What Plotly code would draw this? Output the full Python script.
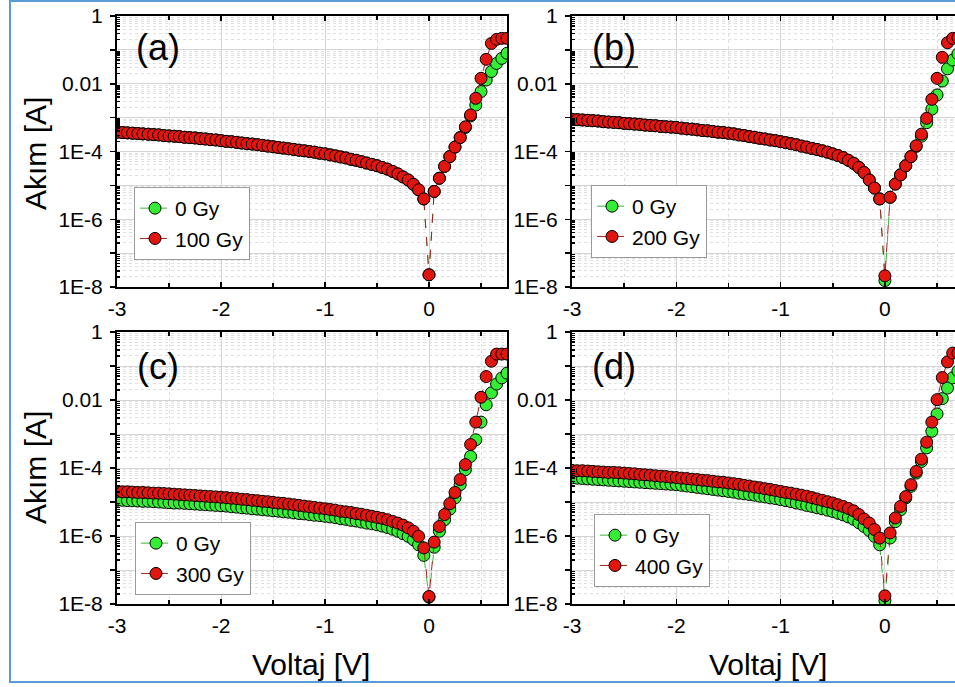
import numpy as np
import plotly.graph_objects as go

# ---------------- data ----------------
voltage = [-3.00, -2.95, -2.90, -2.85, -2.80, -2.75, -2.70, -2.65, -2.60, -2.55,
           -2.50, -2.45, -2.40, -2.35, -2.30, -2.25, -2.20, -2.15, -2.10, -2.05,
           -2.00, -1.95, -1.90, -1.85, -1.80, -1.75, -1.70, -1.65, -1.60, -1.55,
           -1.50, -1.45, -1.40, -1.35, -1.30, -1.25, -1.20, -1.15, -1.10, -1.05,
           -1.00, -0.95, -0.90, -0.85, -0.80, -0.75, -0.70, -0.65, -0.60, -0.55,
           -0.50, -0.45, -0.40, -0.35, -0.30, -0.25, -0.20, -0.15, -0.10, -0.05,
           0.00, 0.05, 0.10, 0.15, 0.20, 0.25, 0.30, 0.35, 0.40, 0.45,
           0.50, 0.55, 0.60, 0.65, 0.70, 0.75]

# log10 of current [A]
# panel (a): reverse branch identical for 0 Gy and 100 Gy
a_rev = [-3.43, -3.44, -3.45, -3.46, -3.47, -3.48, -3.49, -3.50, -3.51, -3.53,
         -3.54, -3.55, -3.56, -3.58, -3.59, -3.60, -3.62, -3.63, -3.65, -3.66,
         -3.68, -3.70, -3.71, -3.73, -3.75, -3.77, -3.78, -3.80, -3.82, -3.84,
         -3.86, -3.88, -3.90, -3.92, -3.94, -3.96, -3.98, -4.00, -4.02, -4.05,
         -4.07, -4.10, -4.13, -4.16, -4.19, -4.23, -4.26, -4.30, -4.34, -4.38,
         -4.42, -4.47, -4.52, -4.59, -4.66, -4.75, -4.84, -4.97, -5.13, -5.40]
a_0gy_fwd = [-7.64, -5.18, -4.79, -4.44, -4.15, -3.87, -3.59, -3.29, -2.95, -2.63,
             -2.23, -1.89, -1.64, -1.40, -1.25, -1.10]
a_100gy_fwd = [-7.64, -5.18, -4.79, -4.44, -4.15, -3.87, -3.59, -3.27, -2.92, -2.43,
               -1.84, -1.28, -0.81, -0.69, -0.66, -0.66]

# panel (b)
b_rev = [-3.05, -3.06, -3.07, -3.08, -3.09, -3.10, -3.12, -3.13, -3.14, -3.15,
         -3.17, -3.18, -3.19, -3.20, -3.22, -3.23, -3.24, -3.26, -3.27, -3.28,
         -3.29, -3.31, -3.33, -3.34, -3.36, -3.38, -3.39, -3.41, -3.43, -3.44,
         -3.46, -3.48, -3.51, -3.53, -3.56, -3.58, -3.61, -3.63, -3.66, -3.68,
         -3.71, -3.74, -3.77, -3.80, -3.84, -3.87, -3.91, -3.94, -3.98, -4.02,
         -4.07, -4.12, -4.18, -4.26, -4.35, -4.47, -4.62, -4.84, -5.08, -5.40]
b_0gy_fwd = [-7.81, -5.35, -4.96, -4.69, -4.42, -4.15, -3.85, -3.55, -3.15, -2.75,
             -2.33, -1.92, -1.56, -1.30, -1.12, -0.98]
b_200gy_fwd = [-7.67, -5.35, -4.96, -4.69, -4.42, -4.15, -3.83, -3.49, -3.02, -2.46,
               -1.84, -1.22, -0.79, -0.66, -0.64, -0.64]

# panel (c)
c_0gy = [-4.95, -4.95, -4.96, -4.96, -4.97, -4.98, -4.98, -4.99, -5.00, -5.01,
         -5.02, -5.03, -5.03, -5.04, -5.05, -5.06, -5.07, -5.08, -5.09, -5.10,
         -5.11, -5.12, -5.14, -5.15, -5.17, -5.18, -5.20, -5.21, -5.23, -5.24,
         -5.26, -5.27, -5.29, -5.30, -5.32, -5.34, -5.35, -5.37, -5.39, -5.40,
         -5.42, -5.44, -5.46, -5.49, -5.51, -5.54, -5.56, -5.59, -5.62, -5.64,
         -5.67, -5.71, -5.75, -5.80, -5.86, -5.93, -6.01, -6.11, -6.26, -6.57,
         -7.80, -6.33, -5.86, -5.52, -5.21, -4.88, -4.49, -4.05, -3.66, -3.17,
         -2.65, -2.14, -1.79, -1.53, -1.35, -1.21]
c_300gy = [-4.69, -4.70, -4.70, -4.71, -4.72, -4.72, -4.73, -4.74, -4.74, -4.75,
           -4.76, -4.77, -4.78, -4.79, -4.80, -4.81, -4.82, -4.83, -4.84, -4.85,
           -4.86, -4.87, -4.89, -4.90, -4.92, -4.93, -4.95, -4.96, -4.98, -4.99,
           -5.01, -5.03, -5.04, -5.06, -5.08, -5.10, -5.12, -5.14, -5.16, -5.18,
           -5.20, -5.22, -5.24, -5.27, -5.29, -5.31, -5.34, -5.36, -5.39, -5.42,
           -5.45, -5.48, -5.52, -5.57, -5.62, -5.68, -5.76, -5.86, -6.01, -6.35,
           -7.78, -6.18, -5.72, -5.37, -5.05, -4.72, -4.34, -3.90, -3.31, -2.65,
           -1.92, -1.31, -0.86, -0.65, -0.65, -0.65]

# panel (d)
d_0gy = [-4.29, -4.30, -4.31, -4.32, -4.33, -4.34, -4.35, -4.36, -4.37, -4.38,
         -4.39, -4.40, -4.41, -4.42, -4.43, -4.44, -4.45, -4.46, -4.47, -4.48,
         -4.49, -4.51, -4.53, -4.55, -4.57, -4.59, -4.61, -4.63, -4.65, -4.67,
         -4.69, -4.71, -4.74, -4.76, -4.78, -4.80, -4.83, -4.85, -4.88, -4.90,
         -4.93, -4.96, -4.99, -5.03, -5.06, -5.10, -5.13, -5.17, -5.20, -5.24,
         -5.28, -5.33, -5.38, -5.44, -5.51, -5.61, -5.72, -5.84, -6.01, -6.26,
         -7.90, -6.06, -5.58, -5.23, -4.88, -4.54, -4.15, -3.81, -3.41, -2.92,
         -2.41, -1.96, -1.65, -1.35, -1.15, -1.00]
d_400gy = [-4.07, -4.08, -4.08, -4.09, -4.10, -4.11, -4.12, -4.13, -4.13, -4.14,
           -4.15, -4.16, -4.17, -4.19, -4.20, -4.21, -4.23, -4.24, -4.25, -4.27,
           -4.28, -4.30, -4.31, -4.33, -4.34, -4.36, -4.37, -4.39, -4.41, -4.42,
           -4.44, -4.46, -4.48, -4.51, -4.53, -4.56, -4.58, -4.61, -4.63, -4.66,
           -4.69, -4.72, -4.74, -4.77, -4.80, -4.83, -4.87, -4.91, -4.95, -4.99,
           -5.03, -5.08, -5.13, -5.19, -5.26, -5.37, -5.50, -5.62, -5.81, -6.06,
           -7.76, -5.91, -5.47, -5.13, -4.84, -4.49, -4.10, -3.74, -3.24, -2.65,
           -1.99, -1.34, -0.88, -0.62, -0.62, -0.62]

panels = [
    ("(a)", "100 Gy", a_rev + a_0gy_fwd, a_rev + a_100gy_fwd),
    ("(b)", "200 Gy", b_rev + b_0gy_fwd, b_rev + b_200gy_fwd),
    ("(c)", "300 Gy", c_0gy, c_300gy),
    ("(d)", "400 Gy", d_0gy, d_400gy),
]

y_major = [1e-8, 1e-7, 1e-6, 1e-5, 1e-4, 1e-3, 1e-2, 1e-1, 1]
y_major_text = ["1E-8", "", "1E-6", "", "1E-4", "", "0.01", "", "1"]
x_major = [-3, -2, -1, 0]
x_major_text = ["-3", "-2", "-1", "0"]
x_minor = [-2.5, -1.5, -0.5, 0.5]

# ---------------- styling / layout ----------------
W, H = 955, 687
FONT = "Liberation Sans, Arial, sans-serif"
GREEN = "#34ee34"
RED = "#e3150f"

def px(x):
    return x / W

def py(y):
    return 1 - y / H

# pixel boxes of the four plot areas: (left, right, top, bottom)
boxes = [(117, 507, 16, 287), (572, 955, 16, 287),
         (117, 507, 332, 604), (572, 955, 332, 604)]
xranges = [[-3, 0.75], [-3, 0.672], [-3, 0.75], [-3, 0.672]]
legend_pos = [(134, 187), (591, 185), (135, 522), (594, 514)]
label_pos = [(158, 48), (614, 48), (158, 366), (614, 366)]

minor_y = [m * 10.0 ** e for e in range(-8, 0) for m in range(2, 10)]

fig = go.Figure()
layout = dict(
    width=W, height=H, autosize=False,
    margin=dict(l=0, r=0, t=0, b=0, pad=0, autoexpand=False),
    paper_bgcolor="white", plot_bgcolor="white",
    font=dict(family=FONT, color="black"),
    showlegend=True,
    annotations=[], shapes=[],
)

for i, (lab, dose, g_vals, r_vals) in enumerate(panels):
    n = "" if i == 0 else str(i + 1)
    xa, ya = "x" + n, "y" + n
    leg = "legend" + n
    fig.add_trace(go.Scatter(
        x=voltage, y=10.0 ** np.array(g_vals), xaxis=xa, yaxis=ya,
        mode="lines+markers", name="0 Gy", legend=leg,
        line=dict(color="#3cb83c", width=1, dash="dash"),
        marker=dict(size=12, color=GREEN, line=dict(color="black", width=1)),
        hoverinfo="skip"))
    fig.add_trace(go.Scatter(
        x=voltage, y=10.0 ** np.array(r_vals), xaxis=xa, yaxis=ya,
        mode="lines+markers", name=dose, legend=leg,
        line=dict(color="#a32020", width=1, dash="dash"),
        marker=dict(size=12, color=RED, line=dict(color="black", width=1)),
        hoverinfo="skip"))

    l, r, t, b = boxes[i]
    full_right = r >= W
    layout["xaxis" + n] = dict(
        domain=[px(l), min(1.0, px(r))], anchor=ya, range=xranges[i],
        automargin=False,
        tickmode="array", tickvals=x_major, ticktext=x_major_text,
        ticks="inside", ticklen=5, tickwidth=1.5, tickcolor="black",
        showline=True, linewidth=2, linecolor="black", mirror="allticks",
        showgrid=True, gridcolor="#d4d4d4", gridwidth=1,
        minor=dict(tickmode="array", tickvals=x_minor, ticks="inside",
                   ticklen=4, tickcolor="black",
                   showgrid=True, gridcolor="#dedede", griddash="dot"),
        tickfont=dict(size=21, family=FONT), ticklabelstandoff=2,
        zeroline=False,
    )
    layout["yaxis" + n] = dict(
        domain=[py(b), py(t)], anchor=xa, type="log", range=[-8, 0],
        automargin=False,
        tickmode="array", tickvals=y_major, ticktext=y_major_text,
        ticks="outside", ticklen=5, tickwidth=1.5, tickcolor="black",
        showline=True, linewidth=2, linecolor="black",
        mirror=(not full_right),
        showgrid=True, gridcolor="#d4d4d4", gridwidth=1,
        minor=dict(tickmode="array", tickvals=minor_y, ticks="inside",
                   ticklen=3, tickcolor="black", showgrid=True,
                   gridcolor="#e0e0e0", griddash="dot"),
        tickfont=dict(size=21, family=FONT), ticklabelstandoff=3,
        zeroline=False,
    )
    lx, ly = legend_pos[i]
    layout[leg] = dict(
        x=px(lx), y=py(ly), xanchor="left", yanchor="top",
        bgcolor="white", bordercolor="#9a9a9a", borderwidth=1,
        font=dict(size=21, family=FONT), itemwidth=30,
        tracegroupgap=0,
    )
    ax, ay = label_pos[i]
    layout["annotations"].append(dict(
        text=lab, x=px(ax), y=py(ay), xref="paper", yref="paper",
        xanchor="center", yanchor="middle", showarrow=False,
        font=dict(size=36, family=FONT)))

# axis titles
for cy in (154, 468):
    layout["annotations"].append(dict(
        text="Akım [A]", x=px(35), y=py(cy), xref="paper", yref="paper",
        xanchor="center", yanchor="middle", textangle=-90, showarrow=False,
        font=dict(size=30, family=FONT)))
for cx in (311, 768):
    layout["annotations"].append(dict(
        text="Voltaj [V]", x=px(cx), y=py(664), xref="paper", yref="paper",
        xanchor="center", yanchor="middle", showarrow=False,
        font=dict(size=30, family=FONT)))

# underline of "(b)" and blue outer frame
layout["shapes"].append(dict(type="line", xref="paper", yref="paper",
                             x0=px(590), x1=px(638), y0=py(67), y1=py(67),
                             line=dict(color="black", width=1.5)))
layout["shapes"].append(dict(type="rect", xref="paper", yref="paper",
                             x0=px(10), x1=1.05, y0=py(682), y1=py(1),
                             line=dict(color="#5b9bd5", width=2), layer="below"))

fig.update_layout(**layout)
fig.write_html(
    "out.html",
    config={"displayModeBar": False, "staticPlot": True},
    post_script="document.body.style.margin='0px';document.body.style.overflow='hidden';",
)
